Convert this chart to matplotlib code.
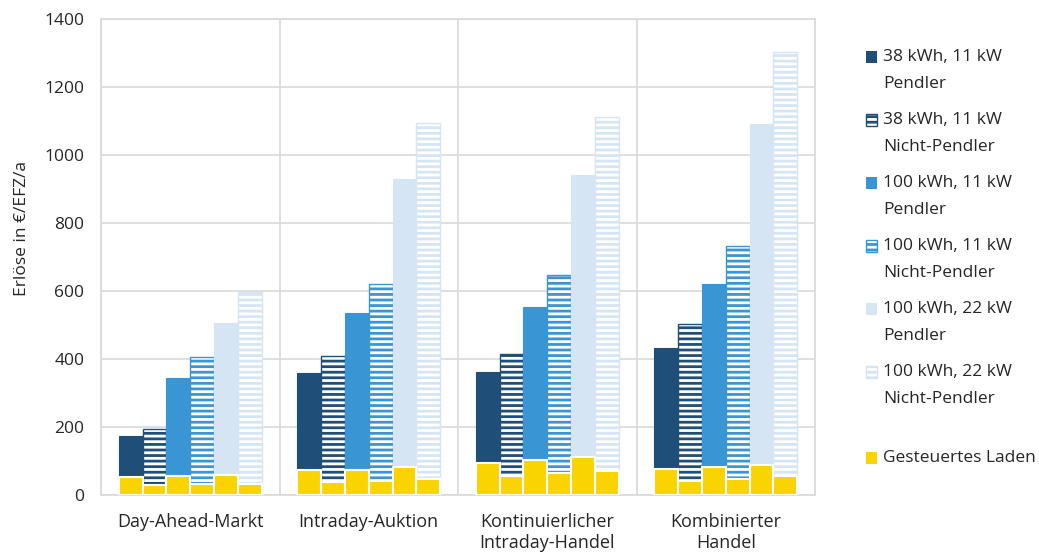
import matplotlib.pyplot as plt
import numpy as np
from matplotlib.patches import Rectangle

plt.rcParams['font.family'] = ['Open Sans', 'DejaVu Sans']
plt.rcParams['hatch.linewidth'] = 2.0

# Daten (Erlöse in €/EFZ/a)
maerkte = ["Day-Ahead-Markt", "Intraday-Auktion",
           "Kontinuierlicher\nIntraday-Handel", "Kombinierter\nHandel"]

kwh38_11_pendler = [174, 358, 361, 431]
kwh38_11_nicht = [194, 409, 414, 503]
kwh100_11_pendler = [345, 535, 553, 620]
kwh100_11_nicht = [405, 620, 647, 731]
kwh100_22_pendler = [506, 929, 940, 1091]
kwh100_22_nicht = [597, 1093, 1112, 1303]

# Gesteuertes Laden je Markt (Reihenfolge wie oben)
gesteuert_dam = [54, 29, 56, 32, 58, 33]
gesteuert_ida = [73, 37, 75, 41, 82, 46]
gesteuert_idc = [93, 55, 102, 64, 113, 71]
gesteuert_komb = [76, 41, 81, 48, 89, 55]

labels = ["38 kWh, 11 kW\nPendler", "38 kWh, 11 kW\nNicht-Pendler",
          "100 kWh, 11 kW\nPendler", "100 kWh, 11 kW\nNicht-Pendler",
          "100 kWh, 22 kW\nPendler", "100 kWh, 22 kW\nNicht-Pendler"]
label_gesteuert = "Gesteuertes Laden"

serien = [kwh38_11_pendler, kwh38_11_nicht, kwh100_11_pendler,
          kwh100_11_nicht, kwh100_22_pendler, kwh100_22_nicht]
gesteuert = np.array([gesteuert_dam, gesteuert_ida, gesteuert_idc, gesteuert_komb]).T

farben = ["#1F4E79", "#1F4E79", "#3A95D5", "#3A95D5", "#D6E5F4", "#D6E5F4"]
schraffiert = [False, True, False, True, False, True]
gelb = "#F9D400"
textfarbe = "#262626"

W, H = 1039, 556
fig = plt.figure(figsize=(W / 100, H / 100), dpi=100)
ax = fig.add_axes([101 / W, (H - 495) / H, (815 - 101) / W, (495 - 19) / H])

x = np.arange(len(maerkte))
bw = 0.8 / 6

for k, werte in enumerate(serien):
    pos = x + (k - 2.5) * bw
    if schraffiert[k]:
        ax.bar(pos, werte, bw, color=farben[k], edgecolor="white",
               hatch="---", linewidth=0, zorder=2)
        ax.bar(pos, werte, bw, fill=False, edgecolor=farben[k],
               linewidth=1.0, zorder=2)
    else:
        ax.bar(pos, werte, bw, color=farben[k], edgecolor=farben[k],
               linewidth=0.8, zorder=2)
    ax.bar(pos, gesteuert[k], bw, color=gelb, edgecolor="white",
           linewidth=1.5, zorder=3)

ax.set_xlim(-0.5, 3.5)
ax.set_ylim(0, 1400)
ax.set_yticks(range(0, 1401, 200))
ax.set_xticks(x)
ax.set_xticklabels(maerkte, fontsize=13, color=textfarbe)
ax.set_xticks(np.arange(-0.5, 4, 1), minor=True)
ax.tick_params(axis="y", length=0, pad=12, labelsize=12.5, labelcolor=textfarbe)
ax.tick_params(axis="x", which="both", length=0, pad=13)
ax.grid(axis="y", color="#D9D9D9", linewidth=1.2, zorder=0)
ax.grid(axis="x", which="minor", color="#D9D9D9", linewidth=1.2, zorder=0)
ax.grid(axis="x", which="major", visible=False)
for s in ax.spines.values():
    s.set_color("#D9D9D9")
    s.set_linewidth(1.2)

ax.set_ylabel("Erlöse in €/EFZ/a", fontsize=12.5, color=textfarbe)
ax.yaxis.set_label_coords(-0.100, 0.56)

# Legende
def fx(px):
    return px / W

def fy(py):
    return 1 - py / H

for k, lab in enumerate(labels):
    yc = 57 + 63 * k
    if schraffiert[k]:
        fig.add_artist(Rectangle((fx(866), fy(yc + 6)), 11 / W, 12 / H,
                                 transform=fig.transFigure, facecolor=farben[k],
                                 edgecolor="white", hatch="---", linewidth=0))
        fig.add_artist(Rectangle((fx(866), fy(yc + 6)), 11 / W, 12 / H,
                                 transform=fig.transFigure, fill=False,
                                 edgecolor=farben[k], linewidth=1.0))
    else:
        fig.add_artist(Rectangle((fx(866), fy(yc + 6)), 11 / W, 12 / H,
                                 transform=fig.transFigure, facecolor=farben[k],
                                 edgecolor="none"))
    zeilen = lab.split("\n")
    fig.text(fx(883), fy(yc), zeilen[0], fontsize=12.5, color=textfarbe, va="center")
    fig.text(fx(883), fy(yc + 27), zeilen[1], fontsize=12.5, color=textfarbe, va="center")

yc = 458
fig.add_artist(Rectangle((fx(866), fy(yc + 6)), 11 / W, 12 / H,
                         transform=fig.transFigure, facecolor=gelb, edgecolor="none"))
fig.text(fx(883), fy(yc), label_gesteuert, fontsize=12.5, color=textfarbe, va="center")

fig.savefig("out.png", dpi=100)
